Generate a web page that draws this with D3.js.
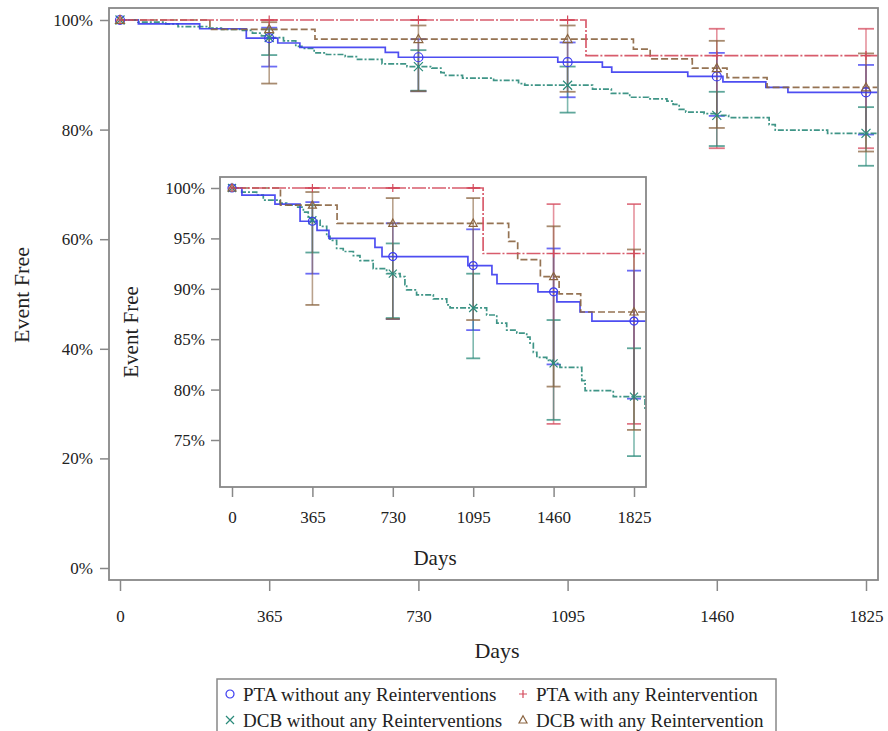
<!DOCTYPE html>
<html><head><meta charset="utf-8">
<script src="https://cdn.jsdelivr.net/npm/d3@7"></script>
<style>
body{margin:0;background:#fff}
svg{display:block}
text{font-family:"Liberation Serif","Times New Roman",serif;fill:#222}
</style>
</head><body>
<svg id="c" width="888" height="731"></svg>
<script>
// ---------------- DATA ----------------
const seriesNames = ["PTA without any Reinterventions","PTA with any Reintervention","DCB without any Reinterventions","DCB with any Reintervention"];
const xTicks = [0,365,730,1095,1460,1825];
const mainYTicks = [0,20,40,60,80,100];
const insetYTicks = [75,80,85,90,95,100];
const ciDays = [365,730,1095,1460,1825];
const followUpEnd = 1880;

// PTA without any Reinterventions (Kaplan-Meier steps)
const ptaWithoutDays = [0,45,195,309,386,440,649,681,1071,1180,1203,1389,1475,1580,1634];
const ptaWithoutSurv = [100,99.3,98.4,96.7,95.8,95.0,94.1,93.2,92.3,91.4,90.5,89.7,88.7,87.7,86.8];
const ptaWithoutLower = [91.5,87.0,85.9,82.5,79.1];
const ptaWithoutUpper = [98.6,96.5,95.9,94.0,91.8];

// PTA with any Reintervention
const ptaWithDays = [0,1140];
const ptaWithSurv = [100,93.5];
const ptaWithLower = [100,100,100,76.6,76.6];
const ptaWithUpper = [100,100,100,98.4,98.4];

// DCB without any Reinterventions
const dcbWithoutDays = [0,44,112,142,218,248,294,324,346,360,400,430,445,475,505,551,581,641,702,763,785,793,838,914,975,990,1156,1202,1247,1293,1338,1353,1368,1384,1429,1456,1489,1588,1603,1731,1875];
const dcbWithoutSurv = [100,99.6,99.3,98.8,98.5,98.3,98.1,97.6,97.1,96.8,96.2,95.2,94.8,94.0,93.7,93.3,92.8,92.0,91.5,91.2,90.4,89.9,89.4,89.0,88.4,88.1,87.4,86.6,85.9,85.6,85.2,84.6,83.7,83.2,82.9,82.6,82.2,80.9,79.9,79.3,78.0];
const dcbWithoutLower = [93.6,87.1,83.1,77.0,73.4];
const dcbWithoutUpper = [98.3,94.5,91.5,86.9,84.1];

// DCB with any Reintervention
const dcbWithDays = [0,220,477,1256,1297,1400,1485,1583];
const dcbWithSurv = [100,98.3,96.5,94.7,92.9,91.2,89.5,87.7];
const dcbWithLower = [88.4,87.0,86.9,80.3,76.0];
const dcbWithUpper = [99.6,99.0,99.0,96.2,93.9];

// ---------------- STYLE ----------------
const series = [
  {name:seriesNames[0], days:ptaWithoutDays, surv:ptaWithoutSurv, lo:ptaWithoutLower, hi:ptaWithoutUpper, color:"#3b3bf0", dash:null, marker:"circle"},
  {name:seriesNames[1], days:ptaWithDays, surv:ptaWithSurv, lo:ptaWithLower, hi:ptaWithUpper, color:"#d44a5c", dash:"14,2,2,2", marker:"plus"},
  {name:seriesNames[2], days:dcbWithoutDays, surv:dcbWithoutSurv, lo:dcbWithoutLower, hi:dcbWithoutUpper, color:"#2a8a7a", dash:"6,2,2,2", marker:"x"},
  {name:seriesNames[3], days:dcbWithDays, surv:dcbWithSurv, lo:dcbWithLower, hi:dcbWithUpper, color:"#8a6440", dash:"7,3", marker:"triangle"}
];
const drawOrder = [2,0,3,1];
const ciOrder = [1,0,2,3];

const svg = d3.select("#c");
const frameColor = "#888";

function stepAt(days, surv, t){
  const i = d3.bisectRight(days, t) - 1;
  return surv[Math.max(0,i)];
}

function markerPath(type, s){
  if(type==="plus") return `M${-s},0H${s}M0,${-s}V${s}`;
  if(type==="x") return `M${-s},${-s}L${s},${s}M${-s},${s}L${s},${-s}`;
  if(type==="triangle") return `M0,${-s*1.05}L${s},${s*0.75}L${-s},${s*0.75}Z`;
  return d3.symbol(d3.symbolCircle, Math.PI*s*s)();
}

function drawMarker(g, type, cx, cy, s, color){
  g.append("path").attr("d", markerPath(type, s))
   .attr("transform", `translate(${cx},${cy})`)
   .attr("fill","none").attr("stroke",color).attr("stroke-width",1.2);
}

function panel(opts){
  const {id, x, y, frame, capW, mSize, yTicks, xTickLen, yTickLen, lineW} = opts;
  const g = svg.append("g");
  g.append("rect").attr("x",frame.x0).attr("y",frame.y0)
   .attr("width",frame.x1-frame.x0).attr("height",frame.y1-frame.y0)
   .attr("fill","#fff").attr("stroke","none");
  svg.append("defs").append("clipPath").attr("id",id)
   .append("rect").attr("x",frame.x0).attr("y",frame.y0)
   .attr("width",frame.x1-frame.x0).attr("height",frame.y1-frame.y0);
  const pg = g.append("g").attr("clip-path",`url(#${id})`);

  // CI bars
  ciOrder.forEach(k=>{
    const s = series[k];
    ciDays.forEach((d,i)=>{
      const cx = x(d);
      pg.append("line").attr("x1",cx).attr("x2",cx).attr("y1",y(s.lo[i])).attr("y2",y(s.hi[i]))
        .attr("stroke",s.color).attr("stroke-width",1.6).attr("stroke-opacity",0.6);
      [s.lo[i], s.hi[i]].forEach(v=>{
        pg.append("line").attr("x1",cx-capW).attr("x2",cx+capW).attr("y1",y(v)).attr("y2",y(v))
          .attr("stroke",s.color).attr("stroke-width",1.8).attr("stroke-opacity",0.75);
      });
    });
  });

  // Step curves
  const line = d3.line().x(d=>x(d[0])).y(d=>y(d[1])).curve(d3.curveStepAfter);
  drawOrder.forEach(k=>{
    const s = series[k];
    const pts = s.days.map((d,i)=>[d,s.surv[i]]);
    pts.push([followUpEnd, s.surv[s.surv.length-1]]);
    pg.append("path").attr("d",line(pts)).attr("fill","none")
      .attr("stroke",s.color).attr("stroke-width",lineW)
      .attr("stroke-dasharray",s.dash).attr("stroke-opacity",0.9);
  });

  // Markers
  drawOrder.forEach(k=>{
    const s = series[k];
    [0].concat(ciDays).forEach(d=>{
      drawMarker(pg, s.marker, x(d), y(stepAt(s.days,s.surv,d)), mSize, s.color);
    });
  });

  // frame
  g.append("rect").attr("x",frame.x0).attr("y",frame.y0)
   .attr("width",frame.x1-frame.x0).attr("height",frame.y1-frame.y0)
   .attr("fill","none").attr("stroke",frameColor).attr("stroke-width",1.8);

  // axes
  const ax = g.append("g").attr("transform",`translate(0,${frame.y1})`)
    .call(d3.axisBottom(x).tickValues(xTicks).tickSize(xTickLen).tickPadding(opts.xPad).tickFormat(d3.format("d")));
  ax.select(".domain").remove();
  ax.selectAll(".tick line").attr("stroke",frameColor).attr("stroke-width",1.5);
  ax.selectAll(".tick text").attr("font-size",opts.tickFont).attr("fill","#222")
    .style("font-family","Liberation Serif");

  const ay = g.append("g").attr("transform",`translate(${frame.x0},0)`)
    .call(d3.axisLeft(y).tickValues(yTicks).tickSize(yTickLen).tickPadding(opts.yPad).tickFormat(d=>d+"%"));
  ay.select(".domain").remove();
  ay.selectAll(".tick line").attr("stroke",frameColor).attr("stroke-width",1.5);
  ay.selectAll(".tick text").attr("font-size",opts.tickFont).attr("fill","#222")
    .style("font-family","Liberation Serif");

  g.append("text").attr("x",opts.xTitle[0]).attr("y",opts.xTitle[1]).attr("text-anchor","middle")
   .attr("font-size",opts.titleFont).text("Days");
  g.append("text").attr("transform",`translate(${opts.yTitle[0]},${opts.yTitle[1]}) rotate(-90)`)
   .attr("text-anchor","middle").attr("font-size",opts.titleFont).text("Event Free");
}

// Main panel
const xMain = d3.scaleLinear().domain([0,1825]).range([120,866]);
const yMain = d3.scaleLinear().domain([0,100]).range([568,20]);
panel({id:"clipMain", x:xMain, y:yMain, frame:{x0:109,y0:8,x1:878,y1:580},
  capW:8, mSize:4.5, yTicks:mainYTicks, xTickLen:11, yTickLen:9, xPad:19, yPad:7,
  tickFont:"17px", titleFont:"22px", xTitle:[497,658], yTitle:[29,295], lineW:1.7});

// Inset panel
const xIn = d3.scaleLinear().domain([0,1825]).range([232,634]);
const yIn = d3.scaleLinear().domain([75,100]).range([440,188]);
panel({id:"clipInset", x:xIn, y:yIn, frame:{x0:220,y0:177,x1:646,y1:487},
  capW:7, mSize:4, yTicks:insetYTicks, xTickLen:10, yTickLen:9, xPad:14, yPad:6,
  tickFont:"17px", titleFont:"21px", xTitle:[435,565], yTitle:[138,332], lineW:1.7});

// Legend
const lg = svg.append("g");
lg.append("rect").attr("x",217).attr("y",679).attr("width",559).attr("height",70)
  .attr("fill","#fff").attr("stroke",frameColor).attr("stroke-width",1.5);
const legPos = [[230,694],[523,694],[230,720],[523,720]];
series.forEach((s,i)=>{
  const [mx,my] = legPos[i];
  drawMarker(lg, s.marker, mx, my, 4, s.color);
  lg.append("text").attr("x",mx+13).attr("y",my+6.5).attr("font-size","19px").text(s.name);
});
</script>
</body></html>
